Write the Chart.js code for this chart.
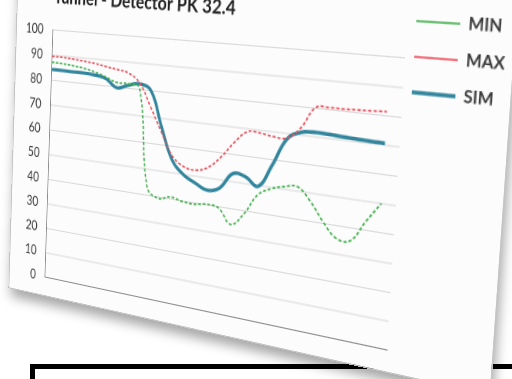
<!DOCTYPE html>
<html>
<head>
<meta charset="utf-8">
<script src="https://cdn.jsdelivr.net/npm/chart.js@4.4.1/dist/chart.umd.min.js"></script>
<style>
  html, body { margin: 0; width: 512px; height: 379px; overflow: hidden; background: #fff; }
  #frame { position: absolute; left: 30px; top: 364px; width: 600px; height: 100px; border: 5px solid #000; }
  #shade { position: absolute; left: 0; top: 0; filter: drop-shadow(2px 8px 6px rgba(0,0,0,0.35)); }
  #card { position: absolute; left: 0; top: 0; width: 513px; height: 322px; background: #fcfcfc;
          outline: 1px solid #c4c4c4; transform-origin: 0 0; }
  canvas { display: block; }
</style>
</head>
<body>
<div id="frame"></div>
<div id="shade"><div id="card"><canvas id="chart" width="513" height="322"></canvas></div></div>
<script>
// series along the tunnel (last category left empty)
const categories = ['1','2','3','4','5','6','7','8','9','10','11','12','13','14','15',
                    '16','17','18','19','20','21','22','23','24','25','26','27','28','29'];
const minValues = [87.2, 87.0, 86.6, 86.0, 85.0, 83.5, 81.8, 81.8, 80.5, 43.0, 39.5, 40.8, 39.8, 39.5,
                   40.2, 39.5, 34.2, 38.8, 46.5, 49.5, 51.0, 51.6, 47.0, 40.5, 35.5, 35.5, 43.0, 50.0];
const maxValues = [89.5, 89.5, 89.2, 88.8, 88.3, 87.5, 86.8, 85.9, 82.5, 74.0, 65.0, 56.5, 53.0, 52.3,
                   54.0, 58.5, 64.5, 69.0, 69.0, 68.3, 68.4, 72.6, 80.3, 80.8, 80.8, 81.0, 81.2, 81.5];
const simValues = [84.3, 84.3, 84.2, 84.2, 83.8, 82.9, 79.8, 81.2, 82.2, 80.0, 67.0, 55.0, 50.0, 47.5,
                   45.5, 47.0, 53.0, 52.5, 49.7, 58.0, 68.0, 71.0, 71.6, 71.5, 71.2, 71.0, 70.8, 70.7];
const yTicks = [0, 10, 20, 30, 40, 50, 60, 70, 80, 90, 100];

// pull the legend a little closer to the plot
const legendNudge = {
  id: 'legendNudge',
  afterLayout(c) { c.legend.left -= 7; c.legend.right -= 7; }
};

const chart = new Chart(document.getElementById('chart'), {
  type: 'line',
  data: {
    labels: categories,
    datasets: [
      { label: 'MIN', data: minValues, borderColor: '#3fae49', borderWidth: 1.6, borderDash: [3, 2] },
      { label: 'MAX', data: maxValues, borderColor: '#ec4c58', borderWidth: 1.6, borderDash: [3, 2] },
      { label: 'SIM', data: simValues, borderColor: '#31859c', borderWidth: 3.2 }
    ]
  },
  plugins: [legendNudge],
  options: {
    responsive: false,
    animation: false,
    devicePixelRatio: 2,
    layout: { padding: { left: 0, right: 0, top: 0, bottom: 0 } },
    elements: { point: { radius: 0 }, line: { tension: 0.4, fill: false } },
    scales: {
      x: {
        offset: false,
        ticks: { display: false },
        grid: { display: false, drawTicks: false, tickLength: 0 },
        border: { display: true, color: '#8a8a8a', width: 1 }
      },
      y: {
        min: yTicks[0],
        max: yTicks[yTicks.length - 1],
        ticks: { stepSize: yTicks[1] - yTicks[0], color: '#333333', padding: 12,
                 font: { family: 'Lato', size: 13, lineHeight: 1 } },
        grid: { color: '#d9d9d9', lineWidth: 1, drawTicks: false },
        border: { display: true, color: '#8a8a8a', width: 1 }
      }
    },
    plugins: {
      title: {
        display: true,
        fullSize: false,
        text: 'Tunnel - Detector PK 32.4',
        align: 'start',
        color: '#1f1f1f',
        font: { family: 'Lato', size: 18, weight: 'bold' },
        padding: { top: 16, bottom: 21 }
      },
      legend: {
        position: 'right',
        align: 'start',
        maxWidth: 92,
        title: { display: true, text: '', font: { size: 6, lineHeight: 1 }, padding: 0 },
        labels: {
          usePointStyle: true,
          pointStyle: 'line',
          pointStyleWidth: 38,
          padding: 15,
          color: '#3a3a3a',
          font: { family: "'Liberation Sans Narrow', Lato", size: 14, weight: 'bold' }
        }
      },
      tooltip: { enabled: false }
    }
  }
});

// tilt the card: map the plot area corners onto the slanted quad
function homography(src, dst) {
  const A = [];
  for (let i = 0; i < 4; i++) {
    const [x, y] = src[i], [X, Y] = dst[i];
    A.push([x, y, 1, 0, 0, 0, -x * X, -y * X, X]);
    A.push([0, 0, 0, x, y, 1, -x * Y, -y * Y, Y]);
  }
  for (let c = 0; c < 8; c++) {
    let p = c;
    for (let r = c + 1; r < 8; r++) if (Math.abs(A[r][c]) > Math.abs(A[p][c])) p = r;
    [A[c], A[p]] = [A[p], A[c]];
    for (let r = 0; r < 8; r++) {
      if (r === c) continue;
      const f = A[r][c] / A[c][c];
      for (let k = c; k < 9; k++) A[r][k] -= f * A[c][k];
    }
  }
  return A.map((row, i) => row[8] / row[i]);
}

const area = chart.chartArea;
const h = homography(
  [[area.left, area.top], [area.right, area.top], [area.right, area.bottom], [area.left, area.bottom]],
  [[53, 30], [405, 58], [387, 350], [45, 277]]
);
document.getElementById('card').style.transform =
  `matrix3d(${h[0]},${h[3]},0,${h[6]},${h[1]},${h[4]},0,${h[7]},0,0,1,0,${h[2]},${h[5]},0,1)`;
</script>
</body>
</html>
